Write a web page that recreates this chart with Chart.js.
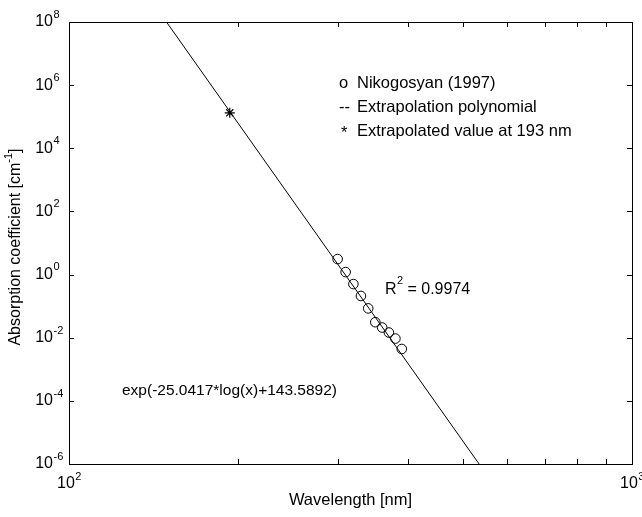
<!DOCTYPE html>
<html>
<head>
<meta charset="utf-8">
<script src="https://cdn.jsdelivr.net/npm/chart.js@4/dist/chart.umd.min.js"></script>
<style>
  body { margin: 0; background: #fff; }
  canvas { display: block; }
</style>
</head>
<body>
<canvas id="chart" width="642" height="517"></canvas>
<script>
// Nikogosyan (1997) measurements
const wavelengths = [300, 310, 320, 330, 340, 350, 360, 370, 380, 390];
const absorption = [3.1, 1.2, 0.50, 0.21, 0.085, 0.031, 0.021, 0.0146, 0.0094, 0.0044];

// extrapolation line, read where it meets the plot box
const fitWavelengths = [149, 535];
const fitAbsorption = [1e8, 1e-6];

// extrapolated value at 193 nm
const starWavelength = [193];
const starAbsorption = [1.33e5];

const xMajorTicks = [100, 1000];
const xMajorExp = ['2', '3'];
const xMinorTicks = [200, 300, 400, 500, 600, 700, 800, 900];
const yTicks = [1e-6, 1e-4, 1e-2, 1e0, 1e2, 1e4, 1e6, 1e8];
const yTickExp = ['-6', '-4', '-2', '0', '2', '4', '6', '8'];

const FONT = '"Liberation Sans", Arial, sans-serif';

function pts(xs, ys) {
  return xs.map((v, i) => ({ x: v, y: ys[i] }));
}

// text with a superscript part
function supText(ctx, base, sup, x, y, size, align) {
  ctx.font = size + 'px ' + FONT;
  const wb = ctx.measureText(base).width;
  ctx.font = Math.round(size * 0.7) + 'px ' + FONT;
  const ws = ctx.measureText(sup).width;
  let left = x;
  if (align === 'center') left = x - (wb + ws) / 2;
  if (align === 'base-right') left = x - wb;
  ctx.textAlign = 'left';
  ctx.textBaseline = 'middle';
  ctx.font = size + 'px ' + FONT;
  ctx.fillText(base, left, y);
  ctx.font = Math.round(size * 0.7) + 'px ' + FONT;
  ctx.fillText(sup, left + wb + 0.5, y - size * 0.45);
}

const matlabAxes = {
  id: 'matlabAxes',
  afterDraw(chart) {
    const { ctx, chartArea: a, scales: { x, y } } = chart;
    ctx.save();
    ctx.strokeStyle = '#000';
    ctx.fillStyle = '#000';
    ctx.lineWidth = 1;
    ctx.strokeRect(Math.round(a.left) + 0.5, Math.round(a.top) + 0.5,
      Math.round(a.right - a.left), Math.round(a.bottom - a.top));

    const tl = 5;
    ctx.beginPath();
    xMinorTicks.forEach(v => {
      const px = Math.round(x.getPixelForValue(v)) + 0.5;
      ctx.moveTo(px, a.bottom); ctx.lineTo(px, a.bottom - tl);
      ctx.moveTo(px, a.top); ctx.lineTo(px, a.top + tl);
    });
    yTicks.forEach(v => {
      const py = Math.round(y.getPixelForValue(v)) + 0.5;
      ctx.moveTo(a.left, py); ctx.lineTo(a.left + tl, py);
      ctx.moveTo(a.right, py); ctx.lineTo(a.right - tl, py);
    });
    ctx.stroke();

    xMajorTicks.forEach((v, i) => {
      supText(ctx, '10', xMajorExp[i], x.getPixelForValue(v), a.bottom + 20, 16, 'center');
    });
    yTicks.forEach((v, i) => {
      supText(ctx, '10', yTickExp[i], a.left - 16, y.getPixelForValue(v), 16, 'base-right');
    });

    // axis titles
    ctx.textAlign = 'center';
    ctx.textBaseline = 'middle';
    ctx.font = '16.5px ' + FONT;
    ctx.fillText('Wavelength [nm]', (a.left + a.right) / 2, 500);

    ctx.save();
    ctx.translate(16, (a.top + a.bottom) / 2 + 4);
    ctx.rotate(-Math.PI / 2);
    ctx.font = '16px ' + FONT;
    const t1 = 'Absorption coefficient [cm';
    const w1 = ctx.measureText(t1).width;
    ctx.font = '11px ' + FONT;
    const w2 = ctx.measureText('-1').width;
    ctx.font = '16px ' + FONT;
    const w3 = ctx.measureText(']').width;
    const start = -(w1 + w2 + w3) / 2;
    ctx.textAlign = 'left';
    ctx.fillText(t1, start, 0);
    ctx.font = '11px ' + FONT;
    ctx.fillText('-1', start + w1, -7);
    ctx.font = '16px ' + FONT;
    ctx.fillText(']', start + w1 + w2, 0);
    ctx.restore();

    // legend-like notes
    ctx.font = '16.5px ' + FONT;
    ctx.textAlign = 'left';
    ctx.textBaseline = 'middle';
    ctx.fillText('o', 339, 83);
    ctx.fillText('Nikogosyan (1997)', 357, 83);
    ctx.fillText('--', 339, 107);
    ctx.fillText('Extrapolation polynomial', 357, 107);
    ctx.fillText('*', 341, 133);
    ctx.fillText('Extrapolated value at 193 nm', 357, 131);

    ctx.font = '16px ' + FONT;
    ctx.fillText('R', 385, 290);
    ctx.font = '11px ' + FONT;
    ctx.fillText('2', 397, 281);
    ctx.font = '16px ' + FONT;
    ctx.fillText(' = 0.9974', 403, 290);

    ctx.font = '15.5px ' + FONT;
    ctx.fillText('exp(-25.0417*log(x)+143.5892)', 122, 391);
    ctx.restore();
  }
};

new Chart(document.getElementById('chart'), {
  type: 'scatter',
  data: {
    datasets: [
      {
        label: 'Extrapolation polynomial',
        data: pts(fitWavelengths, fitAbsorption),
        showLine: true,
        borderColor: '#000',
        borderWidth: 1,
        pointRadius: 0,
        fill: false
      },
      {
        label: 'Nikogosyan (1997)',
        data: pts(wavelengths, absorption),
        pointStyle: 'circle',
        pointRadius: 4.8,
        borderColor: '#000',
        borderWidth: 1,
        backgroundColor: 'rgba(0,0,0,0)'
      },
      {
        label: 'Extrapolated value at 193 nm',
        data: pts(starWavelength, starAbsorption),
        pointStyle: 'star',
        pointRadius: 5,
        borderColor: '#000',
        borderWidth: 1.2,
        backgroundColor: '#000'
      }
    ]
  },
  options: {
    responsive: false,
    animation: false,
    layout: { padding: { left: 69, top: 22, right: 10, bottom: 53 } },
    plugins: { legend: { display: false }, tooltip: { enabled: false } },
    scales: {
      x: { type: 'logarithmic', min: 100, max: 1000, display: false },
      y: { type: 'logarithmic', min: 1e-6, max: 1e8, display: false }
    }
  },
  plugins: [matlabAxes]
});
</script>
</body>
</html>
